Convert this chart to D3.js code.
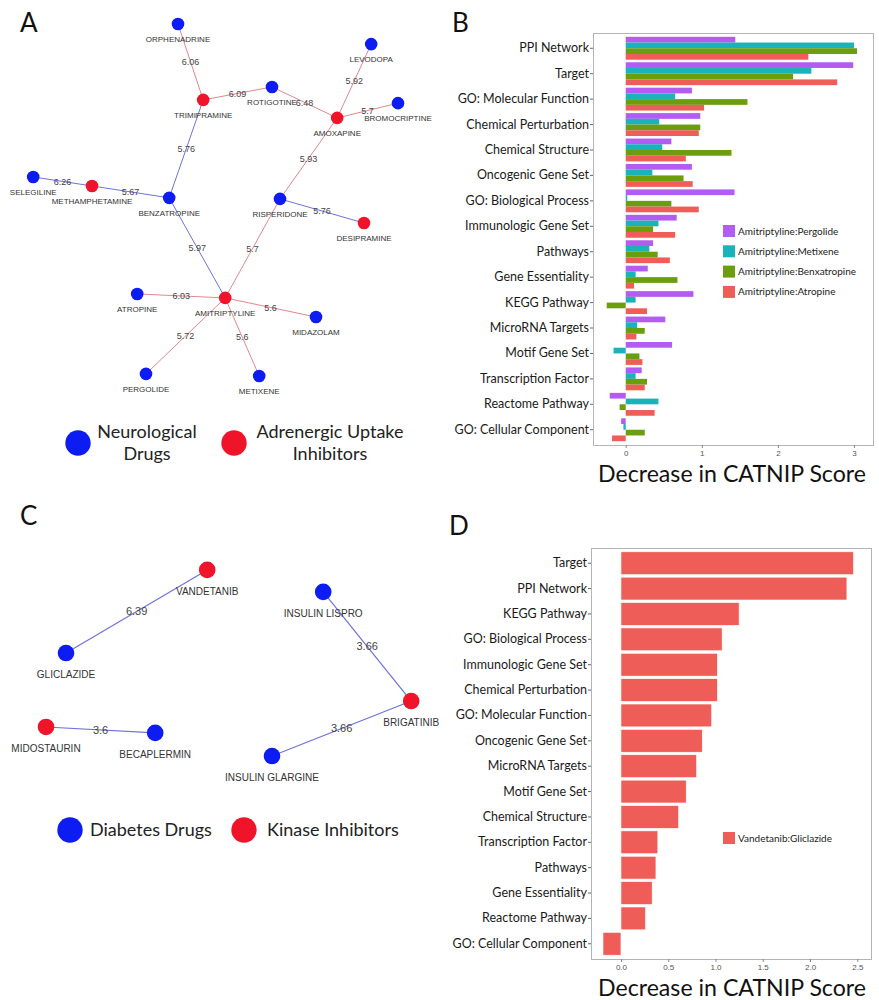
<!DOCTYPE html>
<html>
<head>
<meta charset="utf-8" />
<title>CATNIP drug pairs</title>
<style>
  body { margin: 0; background: #fff; }
  svg { display: block; font-family: Lato, "Open Sans", sans-serif; }
</style>
</head>
<body>
<script src="https://d3js.org/d3.v7.min.js"></script>
<script>

// ---------- panel A network ----------
var nodesA = ["ORPHENADRINE","TRIMIPRAMINE","ROTIGOTINE","AMOXAPINE","LEVODOPA","BROMOCRIPTINE",
              "SELEGILINE","METHAMPHETAMINE","BENZATROPINE","RISPERIDONE","DESIPRAMINE",
              "AMITRIPTYLINE","ATROPINE","MIDAZOLAM","PERGOLIDE","METIXENE"];
var groupA = [0,1,0,1,0,0, 0,1,0,0,1, 1,0,0,0,0];   // 0 neurological, 1 adrenergic
// layout position of each node, in layout units 0-100
var layoutAx = [39.5,45.8,63,79.3,87.8,94.5, 3.3,18,37.3,65,86, 51.3,29.3,74,31.5,59.8];
var layoutAy = [1.1,22.2,18.6,27.2,6.7,23.1, 43.6,46.1,49.4,49.7,56.4, 77.2,76.1,82.5,98.3,98.9];
var edgesA = [
  ["ORPHENADRINE","TRIMIPRAMINE",6.06,1],
  ["TRIMIPRAMINE","ROTIGOTINE",6.09,1],
  ["ROTIGOTINE","AMOXAPINE",6.48,1],
  ["AMOXAPINE","LEVODOPA",5.92,1],
  ["AMOXAPINE","BROMOCRIPTINE",5.7,1],
  ["AMOXAPINE","RISPERIDONE",5.93,1],
  ["TRIMIPRAMINE","BENZATROPINE",5.76,0],
  ["SELEGILINE","METHAMPHETAMINE",6.26,0],
  ["METHAMPHETAMINE","BENZATROPINE",5.67,0],
  ["RISPERIDONE","DESIPRAMINE",5.76,0],
  ["BENZATROPINE","AMITRIPTYLINE",5.97,0],
  ["RISPERIDONE","AMITRIPTYLINE",5.7,1],
  ["ATROPINE","AMITRIPTYLINE",6.03,1],
  ["AMITRIPTYLINE","MIDAZOLAM",5.6,1],
  ["AMITRIPTYLINE","PERGOLIDE",5.72,1],
  ["AMITRIPTYLINE","METIXENE",5.6,1]
];
var legendA = [["Neurological","Drugs"],["Adrenergic Uptake","Inhibitors"]];

// ---------- panel C network ----------
var nodesC = ["VANDETANIB","GLICLAZIDE","INSULIN LISPRO","BRIGATINIB","MIDOSTAURIN","BECAPLERMIN","INSULIN GLARGINE"];
var groupC = [1,0,0,1,1,0,0];   // 0 diabetes, 1 kinase
var layoutCx = [46.8,11.5,75.8,97.8,6.5,33.8,63];
var layoutCy = [4.5,42.3,14.5,64.1,75.9,78.6,89.1];
var edgesC = [
  ["VANDETANIB","GLICLAZIDE",6.39],
  ["INSULIN LISPRO","BRIGATINIB",3.66],
  ["BRIGATINIB","INSULIN GLARGINE",3.66],
  ["MIDOSTAURIN","BECAPLERMIN",3.6]
];
var legendC = ["Diabetes Drugs","Kinase Inhibitors"];

// ---------- panel B bars ----------
var catsB = ["PPI Network","Target","GO: Molecular Function","Chemical Perturbation","Chemical Structure",
             "Oncogenic Gene Set","GO: Biological Process","Immunologic Gene Set","Pathways","Gene Essentiality",
             "KEGG Pathway","MicroRNA Targets","Motif Gene Set","Transcription Factor","Reactome Pathway",
             "GO: Cellular Component"];
var seriesB = ["Amitriptyline:Pergolide","Amitriptyline:Metixene","Amitriptyline:Benxatropine","Amitriptyline:Atropine"];
var pergolide    = [1.44,2.99,0.87,0.98,0.60,0.87,1.43,0.67,0.36,0.29,0.89,0.52,0.61,0.21,-0.21,-0.06];
var metixene     = [3.00,2.44,0.65,0.44,0.48,0.35,0.02,0.43,0.31,0.13,0.13,0.15,-0.16,0.13,0.43,-0.03];
var benxatropine = [3.04,2.20,1.60,0.98,1.39,0.76,0.60,0.36,0.42,0.68,-0.25,0.25,0.18,0.28,-0.08,0.25];
var atropine     = [2.40,2.78,1.03,0.96,0.79,0.88,0.96,0.65,0.58,0.11,0.28,0.14,0.22,0.25,0.38,-0.18];
var ticksB = [0,1,2,3];

// ---------- panel D bars ----------
var catsD = ["Target","PPI Network","KEGG Pathway","GO: Biological Process","Immunologic Gene Set",
             "Chemical Perturbation","GO: Molecular Function","Oncogenic Gene Set","MicroRNA Targets",
             "Motif Gene Set","Chemical Structure","Transcription Factor","Pathways","Gene Essentiality",
             "Reactome Pathway","GO: Cellular Component"];
var valsD = [2.46,2.39,1.25,1.07,1.02,1.02,0.96,0.86,0.80,0.69,0.61,0.39,0.37,0.33,0.26,-0.19];
var seriesD = ["Vandetanib:Gliclazide"];
var ticksD = [0,0.5,1,1.5,2,2.5];

var width = 879, height = 1000;
var nodeColor = ["#0c1cf2","#f0142a"];
var edgeColor = ["#6e72dc","#e2878c"];
var barColor = ["#b35cf2","#19b3b9","#6a9e0c","#ef5d58"];

var svg = d3.select("body").append("svg")
    .attr("width", width)
    .attr("height", height);

svg.append("rect").attr("width", width).attr("height", height).attr("fill", "#fff");

// panel letters
var letters = [["A",20,32],["B",452,32],["C",20,525],["D",449,535]];
svg.selectAll("text.letter").data(letters).enter().append("text")
   .attr("class","letter")
   .attr("x", d => d[1]).attr("y", d => d[2])
   .style("font-size","26px").attr("fill","#111")
   .text(d => d[0]);

function network(names, groups, lx, ly, edges, xs, ys, opt){
    var g = svg.append("g");
    var pos = {};
    names.forEach(function(n, i){ pos[n] = {x: xs(lx[i]), y: ys(ly[i]), g: groups[i]}; });

    g.selectAll("line").data(edges).enter().append("line")
     .attr("x1", d => pos[d[0]].x).attr("y1", d => pos[d[0]].y)
     .attr("x2", d => pos[d[1]].x).attr("y2", d => pos[d[1]].y)
     .style("stroke", d => edgeColor[d.length > 3 ? d[3] : 0])
     .style("stroke-width", opt.edgeW);

    g.selectAll("text.w").data(edges).enter().append("text")
     .attr("class","w")
     .attr("x", d => (pos[d[0]].x + pos[d[1]].x)/2)
     .attr("y", d => (pos[d[0]].y + pos[d[1]].y)/2)
     .attr("dy",".35em")
     .style("text-anchor","middle")
     .style("font-family","'Liberation Sans', Arial, sans-serif")
     .style("font-size", opt.wSize)
     .attr("fill","#444")
     .text(d => d[2]);

    g.selectAll("circle").data(names).enter().append("circle")
     .attr("cx", d => pos[d].x).attr("cy", d => pos[d].y)
     .attr("r", opt.r)
     .attr("fill", d => nodeColor[pos[d].g]);

    g.selectAll("text.n").data(names).enter().append("text")
     .attr("class","n")
     .attr("x", d => pos[d].x)
     .attr("y", d => pos[d].y + opt.labelDy)
     .style("text-anchor","middle")
     .style("font-family","'Liberation Sans', Arial, sans-serif")
     .style("font-size", opt.nSize)
     .attr("fill","#333")
     .text(d => d);
}

var xA = d3.scaleLinear().domain([0,100]).range([20,420]);
var yA = d3.scaleLinear().domain([0,100]).range([20,380]);
network(nodesA, groupA, layoutAx, layoutAy, edgesA, xA, yA,
        {r: 6.3, edgeW: 1, wSize: "9px", nSize: "8px", labelDy: 18});

var xC = d3.scaleLinear().domain([0,100]).range([20,420]);
var yC = d3.scaleLinear().domain([0,100]).range([560,780]);
network(nodesC, groupC, layoutCx, layoutCy, edgesC, xC, yC,
        {r: 8.3, edgeW: 1.2, wSize: "11px", nSize: "10px", labelDy: 25});

// legends for networks
var legA = svg.append("g");
legA.selectAll("circle").data(legendA).enter().append("circle")
    .attr("cx", (d,i) => 78 + i*156).attr("cy", 443).attr("r", 12.7)
    .attr("fill", (d,i) => nodeColor[i]);
legA.selectAll("text").data(legendA).enter().append("text")
    .attr("x", (d,i) => 147 + i*183).attr("y", 438)
    .style("text-anchor","middle").style("font-size","18px").attr("fill","#222")
    .each(function(d){
        var t = d3.select(this);
        t.append("tspan").attr("x", t.attr("x")).text(d[0]);
        t.append("tspan").attr("x", t.attr("x")).attr("dy", 22).text(d[1]);
    });

var legC = svg.append("g");
legC.selectAll("circle").data(legendC).enter().append("circle")
    .attr("cx", (d,i) => 70 + i*174).attr("cy", 830).attr("r", 12.7)
    .attr("fill", (d,i) => nodeColor[i]);
legC.selectAll("text").data(legendC).enter().append("text")
    .attr("x", (d,i) => 90 + i*177).attr("y", 836)
    .style("font-size","18px").attr("fill","#222")
    .text(d => d);

// ---------- bar charts ----------
function barPanel(cats, series, cols, box, domain, ticks, fmt, legY, stroke){
    var x = d3.scaleLinear().domain(domain).range([box.left, box.right]);
    var y = d3.scaleBand().domain(cats).range([box.top, box.bottom])
              .paddingInner(0.1).paddingOuter(0.15);
    var sub = d3.scaleBand().domain(series.map(s => s.name)).range([0, y.bandwidth()]);

    var g = svg.append("g");
    g.append("rect")
     .attr("x", box.left + 0.5).attr("y", box.top + 0.5)
     .attr("width", box.right - box.left).attr("height", box.bottom - box.top)
     .attr("fill","none").style("stroke","#b4b4b4");

    series.forEach(function(s, j){
        g.append("g").selectAll("rect").data(s.values).enter().append("rect")
         .attr("x", d => x(Math.min(0, d)))
         .attr("y", (d,i) => y(cats[i]) + sub(s.name))
         .attr("width", d => Math.abs(x(d) - x(0)))
         .attr("height", sub.bandwidth())
         .attr("fill", cols[j])
         .style("stroke", stroke ? "#fff" : "none")
         .style("stroke-width", stroke ? 0.6 : 0);
    });

    var ay = g.append("g").attr("transform","translate("+box.left+",0)")
              .call(d3.axisLeft(y).tickSize(3).tickPadding(1));
    ay.select(".domain").remove();
    ay.selectAll("line").style("stroke","#666");
    ay.selectAll("text").style("font-family","Lato, sans-serif").style("font-size","12.5px").attr("fill","#1a1a1a");

    var ax = g.append("g").attr("transform","translate(0,"+box.bottom+")")
              .call(d3.axisBottom(x).tickValues(ticks).tickFormat(fmt).tickSize(3).tickPadding(2));
    ax.select(".domain").remove();
    ax.selectAll("line").style("stroke","#888");
    ax.selectAll("text").style("font-family","'Liberation Sans', Arial, sans-serif")
      .style("font-size","8px").attr("fill","#555");

    var lg = g.append("g");
    lg.selectAll("rect").data(series).enter().append("rect")
      .attr("x", 723).attr("y", (d,i) => legY + i*20.3 - 6)
      .attr("width", 12).attr("height", 12)
      .attr("fill", (d,i) => cols[i]);
    lg.selectAll("text").data(series).enter().append("text")
      .attr("x", 738).attr("y", (d,i) => legY + i*20.3)
      .attr("dy",".35em")
      .style("font-size","10px").attr("fill","#222")
      .text(d => d.name);

    g.append("text")
     .attr("x", 598).attr("y", box.bottom + 37)
     .style("font-size","23.5px").attr("fill","#111")
     .attr("textLength", 268).attr("lengthAdjust","spacingAndGlyphs")
     .text("Decrease in CATNIP Score");
}

barPanel(catsB,
         [{name: seriesB[0], values: pergolide},
          {name: seriesB[1], values: metixene},
          {name: seriesB[2], values: benxatropine},
          {name: seriesB[3], values: atropine}],
         barColor,
         {left: 593, right: 873, top: 33, bottom: 445},
         [-0.43, 3.25], ticksB, d3.format("d"), 231, false);

barPanel(catsD,
         [{name: seriesD[0], values: valsD}],
         [barColor[3]],
         {left: 591, right: 871, top: 548, bottom: 959},
         [-0.317, 2.645], ticksD, d3.format(".1f"), 838, true);

</script>
</body>
</html>
